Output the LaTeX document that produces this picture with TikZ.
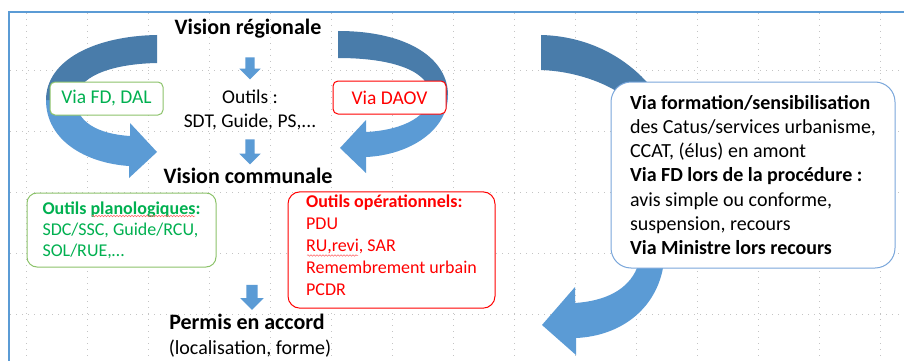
\documentclass[tikz,border=0pt]{standalone}
\usepackage{fontspec}
\setmainfont{Carlito}
\usepackage{tikz}
\usetikzlibrary{shapes.arrows,decorations.pathmorphing}
\definecolor{arrowblue}{HTML}{5B9BD5}
\definecolor{arrowdark}{HTML}{497CAA}
\definecolor{frameblue}{HTML}{5B9BD5}
\definecolor{boxblue}{HTML}{7AA7DB}
\definecolor{okgreen}{HTML}{00B050}
\definecolor{boxgreen}{HTML}{8CC36A}
\definecolor{gridgray}{HTML}{C4C4C4}

\begin{document}
\begin{tikzpicture}[x=1pt, y=-1pt,
  title/.style={font=\fontsize{22}{26}\selectfont\bfseries, inner sep=0pt},
  plain/.style={font=\fontsize{19.5}{24}\selectfont, inner sep=0pt, align=center},
  blockdown/.style={single arrow, draw=none, fill=arrowblue, single arrow head extend=6pt, inner xsep=0pt, inner ysep=4.5pt, rotate=-90},
  viabox/.style={draw, rounded corners=5pt, fill=white, line width=1pt, minimum width=113pt, minimum height=33pt, font=\fontsize{19.5}{24}\selectfont},
  toolbox/.style={draw, fill=white, line width=1pt, align=left},
  gridline/.style={gridgray, line width=0.7pt, dash pattern=on 0.7pt off 5.3pt},
  squiggle/.style={draw=red!60, line width=0.5pt, decorate, decoration={snake, amplitude=0.8pt, segment length=3pt}}
]
    \useasboundingbox (0,0) rectangle (904,361);
    \fill[white] (0,0) rectangle (904,361);

    % Slide grid and frame
    \foreach \gx in {26,87,...,880}
      \draw[gridline] (\gx,13) -- (\gx,361);
    \foreach \gy in {70,131,...,314}
      \draw[gridline] (10,\gy) -- (904,\gy);
    \draw[frameblue, line width=1.3pt] (904,12) -- (9,12) -- (9,361);

    % Curved arrow left (via FD, DAL)
    \fill[arrowblue] (46,100) .. controls (46,140) and (85,163) .. (129,166)
      -- (129,178) -- (157,152) -- (130,123) -- (130,136)
      .. controls (98,134) and (76,122) .. (76,100) -- cycle;
    \fill[arrowdark] (157,35) .. controls (95,36) and (46,60) .. (46,100)
      -- (76,100) .. controls (76,78) and (108,64) .. (157,63) -- cycle;

    % Curved arrow right (via DAOV)
    \fill[arrowblue] (448,95) .. controls (448,130) and (410,155) .. (366,157)
      -- (366,173) -- (340,148) -- (366,120) -- (366,132)
      .. controls (405,130) and (430,115) .. (430,95) -- cycle;
    \fill[arrowdark] (338,31) .. controls (410,31) and (448,60) .. (448,95)
      -- (430,95) .. controls (430,72) and (395,58) .. (338,58) -- cycle;

    % Big arrow round the tutelle box
    \fill[arrowdark] (541,35) .. controls (585,36) and (625,55) .. (652,88)
      -- (665,110) -- (635,115)
      -- (621,94) .. controls (600,80) and (570,71) .. (541,70) -- cycle;
    \fill[arrowblue] (632,245) -- (637,268)
      .. controls (628,290) and (605,301) .. (575,303)
      -- (575,287) -- (542,325) -- (576,355) -- (576,338)
      .. controls (620,336) and (655,310) .. (663,268) -- (668,245) -- cycle;

    % Levels
    \node[title, anchor=base] (vreg) at (248,35) {Vision régionale};
    \node[plain] (outils) at (250,110) {Outils :\\SDT, Guide, PS,...};
    \node[title, anchor=base] (vcom) at (248,183) {Vision communale};
    \node[title, anchor=base] (permis) at (247,329) {Permis en accord};
    \node[font=\fontsize{20}{24}\selectfont, inner sep=0pt, anchor=base] (forme) at (250,354) {(localisation, forme)};

    \node[blockdown, minimum height=22pt] (down1) at (250,66) {};
    \node[blockdown, minimum height=25pt] (down2) at (250,149.5) {};
    \node[blockdown, minimum height=25pt, inner ysep=5.5pt] (down3) at (252,294.5) {};

    % Via labels
    \node[viabox, draw=boxgreen, text=okgreen] (viafd) at (106.5,98.5) {Via FD, DAL};
    \node[viabox, draw=red, text=red] (viadaov) at (389.5,97.5) {Via DAOV};

    % Tool boxes
    \node[toolbox, draw=boxgreen, text=okgreen, rounded corners=10pt, minimum width=189pt, minimum height=74pt,
      font=\fontsize{18}{21}\selectfont] (plano) at (121.5,230)
      {\textbf{Outils planologiques:}\\SDC/SSC, Guide/RCU,\\SOL/RUE,…};
    \node[toolbox, draw=red, text=red, rounded corners=12pt, minimum width=207pt, minimum height=114pt,
      font=\fontsize{18}{22}\selectfont] (opera) at (391.5,250)
      {\textbf{Outils opérationnels:}\\PDU\\RU,revi, SAR\\Remembrement urbain\\PCDR\rule[-9pt]{0pt}{9pt}};
    \draw[squiggle] (92,216) -- (195,216);
    \draw[squiggle] (307,255.5) -- (358,255.5);

    % Tutelle box
    \node[toolbox, draw=boxblue, rounded corners=20pt, minimum width=284pt, minimum height=186pt,
      font=\fontsize{20}{24.3}\selectfont] (tutelle) at (753,175)
      {\textbf{Via formation/sensibilisation}\\des Catus/services urbanisme,\\CCAT, (élus) en amont\\
       \textbf{Via FD lors de la procédure :}\\avis simple ou conforme,\\suspension, recours\\\textbf{Via Ministre lors recours}};
\end{tikzpicture}
\end{document}
